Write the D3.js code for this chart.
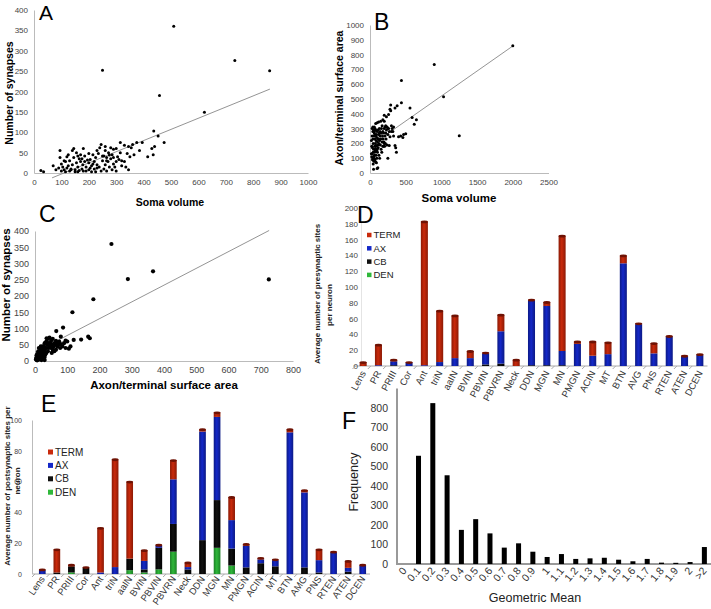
<!DOCTYPE html>
<html><head><meta charset="utf-8">
<script src="https://cdn.jsdelivr.net/npm/d3@7"></script>
<style>body{margin:0;background:#fff} svg{font-family:"Liberation Sans",Arial,sans-serif;display:block}</style>
</head><body><svg id="c" width="711" height="609"></svg>
<script>
// ---------- DATA ----------
// Panel A: soma volume vs number of synapses
const aPoints = [[25,6],[35,3],[70,18],[80,8],[90,12],[95,55],[95,38],[100,22],[100,5],[105,15],[110,8],[115,28],[115,3],[120,12],[125,18],[125,45],[130,5],[130,30],[135,10],[140,55],[140,20],[145,38],[150,8],[150,3],[155,25],[160,42],[160,15],[165,6],[165,35],[170,28],[175,10],[178,20],[180,60],[180,5],[185,42],[190,15],[195,32],[200,8],[200,25],[205,33],[210,18],[210,3],[215,45],[220,10],[220,28],[225,38],[225,3],[230,20],[235,48],[238,15],[240,62],[245,5],[245,70],[250,30],[255,10],[255,42],[260,65],[260,20],[265,38],[265,5],[270,28],[272,50],[275,15],[280,62],[280,35],[285,8],[285,45],[290,22],[290,38],[295,15],[300,28],[300,5],[305,40],[310,33],[315,75],[315,50],[320,18],[330,68],[335,15],[340,48],[345,8],[350,40],[355,62],[360,70],[365,45],[375,75],[385,55],[395,75],[415,40],[430,60],[435,45],[437,103],[440,65],[453,91],[458,190],[475,75],[510,360],[250,252],[622,149],[733,276],[860,251],[120,40],[145,60],[170,45],[200,48],[230,55],[260,55],[290,58],[300,60],[250,42],[205,12],[185,28],[135,8],[110,30],[160,3],[190,5],[215,22],[265,30],[275,44],[230,12],[320,30],[345,65],[330,28],[155,50],[175,35]];
const aFitX = [66, 861];
const aFitCoef = [-30, 0.274]; // intercept, slope

// Panel B: soma volume vs axon/terminal surface area
const bPoints = [[2000,860],[900,733],[440,625],[1030,515],[1250,252],[560,440],[590,375],[650,360],[620,330],[440,475],[380,455],[290,460],[280,430],[290,420],[260,395],[200,390],[230,380],[350,440],[330,310],[360,170],[370,140],[350,185],[250,100],[240,190],[270,185],[430,250],[470,260],[500,265],[460,240],[400,245],[280,245],[300,320],[310,300],[250,300],[200,350],[180,360],[150,350],[120,345],[100,340],[80,335],[60,310],[40,280],[30,250],[20,220],[25,180],[30,130],[40,100],[50,25],[100,30],[110,35],[70,90],[80,75],[90,70],[60,120],[50,160],[45,200],[70,230],[90,260],[110,290],[130,270],[150,230],[170,210],[190,270],[210,250],[60,280],[70,300],[80,290],[100,280],[120,260],[140,250],[160,300],[180,280],[200,300],[220,270],[40,230],[55,250],[65,180],[75,150],[85,120],[95,100],[105,140],[115,170],[125,200],[135,220],[145,190],[155,160],[165,140],[175,250],[185,230],[195,210],[205,180],[215,200],[225,230],[35,170],[45,140],[55,110],[65,95],[75,200],[85,220],[95,240],[105,210],[115,230],[125,120],[135,100],[30,300],[40,310],[50,290],[60,270],[70,260],[80,250],[90,180],[100,160],[110,190],[120,230],[130,300],[140,280],[160,270],[20,130],[25,110],[35,90],[45,60],[55,80],[65,140],[75,165],[85,185],[95,150],[150,270],[170,320],[190,180],[210,310],[230,290],[250,260],[270,280],[320,280],[330,250],[300,280],[260,300],[240,310],[220,320],[180,180],[200,200]];
const bFitX = [20, 2000];
const bFitCoef = [182, 0.338];

// Panel C: axon/terminal surface area vs number of synapses
const cPoints = [[237,360],[288,252],[366,276],[725,251],[181,190],[116,150],[87,103],[66,92],[120,65],[143,66],[165,75],[170,70],[105,38],[100,60],[95,63],[80,75],[75,60],[85,45],[78,40],[70,45],[65,35],[60,55],[55,50],[50,62],[45,72],[40,68],[48,55],[42,40],[38,50],[35,60],[30,55],[28,45],[25,35],[22,25],[20,40],[18,30],[15,20],[12,10],[10,5],[8,15],[6,8],[5,3],[4,10],[15,5],[20,10],[25,8],[30,12],[32,20],[28,30],[24,45],[18,38],[12,28],[8,22],[5,18],[14,15],[22,15],[26,22],[30,35],[35,40],[40,30],[45,45],[50,40],[55,35],[58,45],[62,50],[68,55],[72,50],[90,55],[95,40],[110,45],[60,30],[52,25],[18,45],[16,12],[10,30],[3,5],[7,2],[20,3],[26,5],[30,3],[12,40],[35,25],[42,55],[48,48],[36,70],[55,68],[65,62],[80,52]];
const cFitX = [0, 726];
const cFitCoef = [27, 0.516];

// Panel D: presynaptic sites per neuron
const dCats = ["Lens","PR","PRIII","Cor","Ant","triN","aaIN","BVIN","PBVIN","PBVRN","Neck","DDN","MGN","MN","PMGN","ACIN","MT","BTN","AVG","PNS","RTEN","ATEN","DCEN"];
const dTERM = [5,26,2,1,182,65,54,9,1,21,8,1,5,146,3,18,15,10,1,13,1,1,1];
const dAX   = [0,1,5,4,1,5,10,10,14,41,0,82,75,18,28,13,15,130,53,16,37,12,14];
const dCB   = [0,0,1,0,0,0,0,0,2,3,0,1,1,1,0,0,0,0,0,0,0,0,0];
const dDEN  = [0,0,0,0,0,0,0,0,0,0,0,0,0,0,0,0,0,0,0,0,0,0,0];
const dTicks = [0,20,40,60,80,100,120,140,160,180,200];

// Panel E: postsynaptic sites per neuron
const eCats = ["Lens","PR","PRIII","Cor","Ant","triN","aaIN","BVIN","PBVIN","PBVRN","Neck","DDN","MGN","MN","PMGN","ACIN","MT","BTN","AMG","PNS","RTEN","ATEN","DCEN"];
const eTERM = [0.3,15,1,0.5,29,70,50,7,0.5,12.5,3,1.5,3,15,1.2,1,0.5,2,1.5,7,0.5,4.5,0.5];
const eAX   = [2.7,0,0,0,1,4.5,0,5.5,1.5,29,1.5,70.5,54,18.5,14,2.5,4,92,48.7,8,14,2.5,5.5];
const eCB   = [0,1,4,4,0,0,7.5,2,14,18,3,22,31,11,4.3,7,5,0,4.3,1,0,1.5,0];
const eDEN  = [0,0,1,0,0,0,2.5,1,3,14.5,0,0,17,5.5,0,0,0,0,0,0,0,0,0];
const eTicks = [0,20,40,60,80,100];

// Panel F: geometric mean histogram
const fCats = ["0","0.1","0.2","0.3","0.4","0.5","0.6","0.7","0.8","0.9","1","1.1","1.2","1.3","1.4","1.5","1.6","1.7","1.8","1.9","2",">2"];
const fVals = [0,555,825,455,175,230,157,84,106,63,36,51,26,29,32,22,14,26,7,6,10,87];
const fTicks = [0,100,200,300,400,500,600,700,800];

const keys = ["DEN","CB","AX","TERM"];
const legendKeys = ["TERM","AX","CB","DEN"];
const colors = {TERM:"#c92a0c", AX:"#1428c8", CB:"#111111", DEN:"#2fb83a"};
const edge = {TERM:"#8c1a05", AX:"#0c1a85", CB:"#000000", DEN:"#1d8026"};
const capC = {TERM:"#6e1204", AX:"#0a1470", CB:"#000", DEN:"#176a1f"};

// ---------- DRAW ----------
const svg = d3.select("#c");
const defs = svg.append("defs");
Object.keys(colors).forEach(k => {
  const gr = defs.append("linearGradient").attr("id","g"+k).attr("x1","0").attr("x2","1").attr("y1","0").attr("y2","0");
  gr.append("stop").attr("offset","0").attr("stop-color",edge[k]);
  gr.append("stop").attr("offset","0.45").attr("stop-color",colors[k]);
  gr.append("stop").attr("offset","1").attr("stop-color",edge[k]);
});

function styleAxis(g, fs){
  g.select(".domain").attr("stroke","#bbb");
  g.selectAll(".tick line").attr("stroke","#bbb");
  g.selectAll(".tick text").attr("fill","#444").style("font-size",fs+"px");
}

function bigLetter(t, x, y, fs){
  svg.append("text").attr("x",x).attr("y",y).text(t).style("font-size",fs+"px").attr("fill","#000");
}

function scatterPanel(c){
  const x = d3.scaleLinear().domain(c.xd).range(c.xr);
  const y = d3.scaleLinear().domain(c.yd).range(c.yr);
  const ga = svg.append("g").attr("transform",`translate(0,${c.yr[0]})`)
    .call(d3.axisBottom(x).tickValues(c.xt).tickSize(0).tickPadding(c.padX).tickFormat(d3.format("d")));
  styleAxis(ga, c.fs);
  const gb = svg.append("g").attr("transform",`translate(${c.xr[0]},0)`)
    .call(d3.axisLeft(y).tickValues(c.yt).tickSize(0).tickPadding(c.padY).tickFormat(d3.format("d")));
  styleAxis(gb, c.fs);
  svg.append("line").attr("x1",x(c.fitX[0])).attr("x2",x(c.fitX[1]))
    .attr("y1",y(c.coef[0]+c.coef[1]*c.fitX[0])).attr("y2",y(c.coef[0]+c.coef[1]*c.fitX[1]))
    .attr("stroke","#888").attr("stroke-width",0.9);
  svg.append("g").selectAll("circle").data(c.pts).join("circle")
    .attr("cx",d=>x(d[0])).attr("cy",d=>y(d[1])).attr("r",c.r).attr("fill","#000");
}

scatterPanel({xd:[0,1000],xr:[34,308],yd:[0,400],yr:[173,10],xt:d3.range(0,1001,100),yt:d3.range(0,401,50),
  padX:6,padY:6,fs:8,pts:aPoints,fitX:aFitX,coef:aFitCoef,r:1.5});
scatterPanel({xd:[0,2500],xr:[370,548.5],yd:[0,1000],yr:[173,25],xt:d3.range(0,2501,500),yt:d3.range(0,1001,100),
  padX:6,padY:6,fs:8,pts:bPoints,fitX:bFitX,coef:bFitCoef,r:1.5});
scatterPanel({xd:[0,800],xr:[35,293],yd:[0,400],yr:[361,231],xt:d3.range(0,801,100),yt:d3.range(0,401,50),
  padX:6,padY:6,fs:9,pts:cPoints,fitX:cFitX,coef:cFitCoef,r:2.1});

// axis titles for scatters
svg.append("text").attr("transform","translate(13,93) rotate(-90)").attr("text-anchor","middle")
  .style("font-size","10.5px").style("font-weight","bold").text("Number of synapses");
svg.append("text").attr("x",170).attr("y",206).attr("text-anchor","middle")
  .style("font-size","10.5px").style("font-weight","bold").text("Soma volume");
svg.append("text").attr("transform","translate(343,98) rotate(-90)").attr("text-anchor","middle")
  .style("font-size","10.5px").style("font-weight","bold").text("Axon/terminal surface area");
svg.append("text").attr("x",459).attr("y",202).attr("text-anchor","middle")
  .style("font-size","11.5px").style("font-weight","bold").text("Soma volume");
svg.append("text").attr("transform","translate(10,285) rotate(-90)").attr("text-anchor","middle")
  .style("font-size","11.5px").style("font-weight","bold").text("Number of synapses");
svg.append("text").attr("x",164).attr("y",389).attr("text-anchor","middle")
  .style("font-size","11.5px").style("font-weight","bold").text("Axon/terminal surface area");

// stacked bar panels
function stackPanel(c){
  const rows = c.cats.map((k,i)=>({cat:k, TERM:c.TERM[i], AX:c.AX[i], CB:c.CB[i], DEN:c.DEN[i]}));
  const st = d3.stack().keys(keys)(rows);
  const x = d3.scaleBand().domain(c.cats).range(c.xr).paddingInner(0.54).paddingOuter(0.27);
  const y = d3.scaleLinear().domain(c.yd).range(c.yr);
  svg.append("line").attr("x1",c.xr[0]-2).attr("x2",c.xr[1]).attr("y1",y(0)).attr("y2",y(0)).attr("stroke","#aaa");
  const gy = svg.append("g").attr("transform",`translate(${c.axisX},0)`)
    .call(d3.axisLeft(y).tickValues(c.ticks).tickSize(0).tickPadding(c.padY));
  styleAxis(gy, c.fs);
  gy.select(".domain").attr("stroke",c.axisStroke);
  svg.append("g").selectAll("line").data(c.cats).join("line")
    .attr("x1",d=>x(d)-x.step()*0.27).attr("x2",d=>x(d)-x.step()*0.27-3)
    .attr("y1",y(0)).attr("y2",y(0)+3).attr("stroke","#aaa");
  st.forEach(s=>{
    svg.append("g").selectAll("rect").data(s.filter(d=>d[1]-d[0]>0)).join("rect")
      .attr("x",d=>x(d.data.cat)).attr("width",x.bandwidth())
      .attr("y",d=>y(d[1])).attr("height",d=>y(d[0])-y(d[1]))
      .attr("fill",`url(#g${s.key})`);
  });
  const tops = rows.map(r=>{
    let topKey=null; keys.forEach(k=>{ if(r[k]>0) topKey=k; });
    return {cat:r.cat, total:keys.reduce((a,k)=>a+r[k],0), key:topKey};
  }).filter(d=>d.key);
  svg.append("g").selectAll("ellipse").data(tops).join("ellipse")
    .attr("cx",d=>x(d.cat)+x.bandwidth()/2).attr("cy",d=>y(d.total)+0.5)
    .attr("rx",x.bandwidth()/2).attr("ry",1.4).attr("fill",d=>capC[d.key]);
  svg.append("g").selectAll("text").data(c.cats).join("text")
    .attr("transform",d=>`translate(${x(d)+x.bandwidth()/2+3},${c.labY}) rotate(${c.rot})`)
    .attr("text-anchor","end").style("font-size",c.labFs+"px").attr("fill","#333").text(d=>d);
  const lg = svg.append("g");
  legendKeys.forEach((k,i)=>{
    lg.append("rect").attr("x",c.legX).attr("y",c.legY+i*c.legDy-c.legSq/2).attr("width",c.legSq).attr("height",c.legSq).attr("fill",colors[k]);
    lg.append("text").attr("x",c.legX+c.legSq+2).attr("y",c.legY+i*c.legDy).attr("dy","0.35em")
      .style("font-size",c.legFs+"px").attr("fill","#222").text(k);
  });
}

stackPanel({cats:dCats,TERM:dTERM,AX:dAX,CB:dCB,DEN:dDEN,xr:[355.5,707.5],yd:[0,200],yr:[366,208],ticks:dTicks,
  axisX:361,padY:3,fs:8,axisStroke:"#e4e4e4",labY:373,rot:-62,labFs:9.5,legX:367,legY:235,legDy:13.3,legSq:4.5,legFs:9.5});
stackPanel({cats:eCats,TERM:eTERM,AX:eAX,CB:eCB,DEN:eDEN,xr:[35,370],yd:[0,100],yr:[574,420],ticks:eTicks,
  axisX:32,padY:10,fs:7,axisStroke:"#bbb",labY:579,rot:-55,labFs:9.5,legX:48,legY:452,legDy:13.4,legSq:5,legFs:10});

svg.append("text").attr("transform","translate(320,294) rotate(-90)").attr("text-anchor","middle")
  .style("font-size","8px").style("font-weight","bold").attr("fill","#222").text("Average number of presynaptic sites");
svg.append("text").attr("transform","translate(332,305) rotate(-90)").attr("text-anchor","middle")
  .style("font-size","8px").style("font-weight","bold").attr("fill","#222").text("per neuron");
svg.append("text").attr("transform","translate(10,486) rotate(-90)").attr("text-anchor","middle")
  .style("font-size","8px").style("font-weight","bold").attr("fill","#222").text("Average number of postsynaptic sites per");
svg.append("text").attr("transform","translate(20,481) rotate(-90)").attr("text-anchor","middle")
  .style("font-size","8px").style("font-weight","bold").attr("fill","#222").text("neuron");

// Panel F histogram
(function(){
  const x = d3.scaleBand().domain(fCats).range([397,711.6]).paddingInner(0.65).paddingOuter(0.33);
  const y = d3.scaleLinear().domain([0,800]).range([564,408]);
  svg.append("line").attr("x1",397).attr("x2",711).attr("y1",y(0)).attr("y2",y(0)).attr("stroke","#999").attr("stroke-width",2);
  svg.append("line").attr("x1",397).attr("x2",397).attr("y1",y(0)+1).attr("y2",y(900)).attr("stroke","#999").attr("stroke-width",2);
  const gy = svg.append("g").attr("transform","translate(397,0)")
    .call(d3.axisLeft(y).tickValues(fTicks).tickSize(0).tickPadding(9));
  gy.select(".domain").remove();
  gy.selectAll(".tick text").attr("fill","#333").style("font-size","10.5px");
  svg.append("g").selectAll("rect").data(fCats.map((c,i)=>({c,v:fVals[i]})).filter(d=>d.v>0)).join("rect")
    .attr("x",d=>x(d.c)).attr("width",x.bandwidth()).attr("y",d=>y(d.v)).attr("height",d=>y(0)-y(d.v)).attr("fill","#000");
  svg.append("g").selectAll("text").data(fCats).join("text")
    .attr("transform",d=>`translate(${x(d)+x.bandwidth()/2+3},${571}) rotate(-50)`)
    .attr("text-anchor","end").style("font-size","10.5px").attr("fill","#333").text(d=>d);
  svg.append("text").attr("x",535).attr("y",602).attr("text-anchor","middle").style("font-size","12.5px").attr("fill","#222").text("Geometric Mean");
  svg.append("text").attr("transform","translate(358,482) rotate(-90)").attr("text-anchor","middle").style("font-size","12.5px").attr("fill","#222").text("Frequency");
})();

bigLetter("A",39,20,21);
bigLetter("B",374,30,23);
bigLetter("C",39,222,23);
bigLetter("D",357,223,23);
bigLetter("E",41,412,23);
bigLetter("F",342,429,23);
</script></body></html>
